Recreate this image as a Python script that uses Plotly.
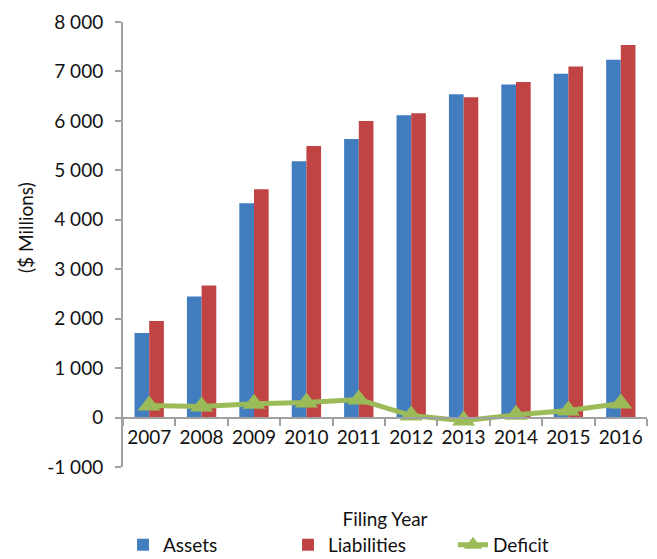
import plotly.graph_objects as go

years = ["2007", "2008", "2009", "2010", "2011", "2012", "2013", "2014", "2015", "2016"]
assets = [1712, 2448, 4335, 5185, 5633, 6113, 6540, 6734, 6951, 7235]
liabilities = [1955, 2671, 4615, 5491, 5998, 6154, 6478, 6789, 7099, 7533]
deficit = [243, 223, 280, 306, 365, 41, -62, 55, 142, 285]

y_tickvals = [-1000, 0, 1000, 2000, 3000, 4000, 5000, 6000, 7000, 8000]
y_ticktext = ["-1 000", "0", "1 000", "2 000", "3 000", "4 000", "5 000", "6 000", "7 000", "8 000"]

FONT = "Lato, Century Gothic, sans-serif"
AXIS_COLOR = "#A0A0A0"

fig = go.Figure()
fig.add_trace(go.Bar(x=years, y=assets, name="Assets", marker=dict(color="#417DBF", line=dict(width=0))))
fig.add_trace(go.Bar(x=years, y=liabilities, name="Liabilities", marker=dict(color="#C04444", line=dict(width=0))))
fig.add_trace(go.Scatter(x=years, y=deficit, name="Deficit", mode="lines+markers",
                         line=dict(color="#9BBB59", width=5),
                         marker=dict(symbol="triangle-up", size=20, color="#9BBB59")))

fig.update_layout(
    width=657, height=559,
    margin=dict(l=123, r=10, t=22, b=92, autoexpand=False),
    paper_bgcolor="white", plot_bgcolor="white",
    font=dict(family=FONT, size=18, color="#111111"),
    barmode="group", bargap=0.44, bargroupgap=0,
    showlegend=True,
    legend=dict(orientation="h", x=0.0, xanchor="left", y=-0.175, yanchor="middle",
                font=dict(size=19), itemwidth=30, traceorder="normal",
                entrywidth=120, entrywidthmode="pixels"),
    xaxis=dict(
        type="category", anchor="free", position=1000 / 9000, range=[-0.5, 9.5],
        showline=True, linecolor=AXIS_COLOR, linewidth=2,
        ticks="outside", ticklen=7, tickcolor=AXIS_COLOR, tickwidth=2,
        tickson="boundaries", showgrid=False, tickangle=0, automargin=False,
        tickfont=dict(size=19), ticklabelstandoff=3,
        title=dict(text="Filing Year", font=dict(size=19), standoff=64),
    ),
    yaxis=dict(
        range=[-1000, 8000], tickvals=y_tickvals, ticktext=y_ticktext,
        showline=True, linecolor=AXIS_COLOR, linewidth=2,
        ticks="outside", ticklen=6, tickcolor=AXIS_COLOR, tickwidth=2,
        showgrid=False, zeroline=False, automargin=False,
        tickfont=dict(size=19), ticklabelstandoff=8,
    ),
    annotations=[dict(text="($ Millions)", textangle=-90, showarrow=False,
                      xref="paper", yref="paper", x=-0.187, y=0.537,
                      xanchor="center", yanchor="middle", font=dict(size=19))],
)

fig.write_html("out.html", config={"displayModeBar": False},
               post_script="document.body.style.margin='0';document.body.style.overflow='hidden';")
